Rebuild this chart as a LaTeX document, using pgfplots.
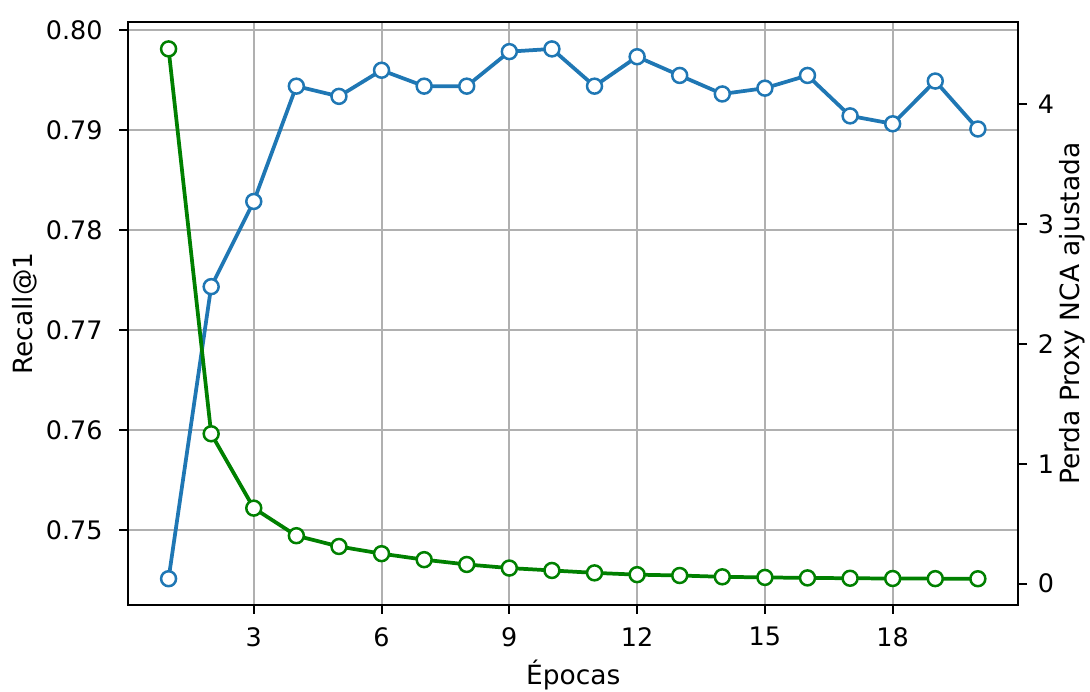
\documentclass[border={4.8pt 0.8pt 2pt 4.8pt}]{standalone}
\usepackage{pgfplots}
\pgfplotsset{compat=1.18}
\usepackage{fontspec}
\setmainfont{DejaVu Sans}
\definecolor{mplblue}{HTML}{1F77B4}
\definecolor{mplgreen}{HTML}{008000}
\definecolor{gridgray}{HTML}{B0B0B0}
\begin{document}
\begin{tikzpicture}
\pgfplotsset{
  common/.style={
    scale only axis, width=356.8pt, height=233.6pt,
    xmin=0.05, xmax=20.95,
    axis line style={line width=0.8pt, black},
    tick style={line width=0.8pt, black},
    major tick length=3.5pt,
    tick align=outside,
    /pgf/number format/assume math mode=true,
    tick label style={font=\fontsize{10.2}{12}\selectfont},
  }
}
\begin{axis}[
  common,
  ymin=0.74252, ymax=0.80075,
  xtick={3,6,9,12,15,18},
  ytick={0.75,0.76,0.77,0.78,0.79,0.80},
  yticklabel style={xshift=-3.2pt, /pgf/number format/.cd, fixed, fixed zerofill, precision=2},
  xticklabel style={yshift=-1.8pt},
  xtick pos=bottom, ytick pos=left,
  grid=major,
  grid style={line width=0.8pt, gridgray},
  xlabel={Épocas},
  ylabel={Recall@1},
  every axis x label/.style={at={(rel axis cs:0.5,0)}, yshift=-27.8pt, anchor=center, inner sep=0pt, font=\fontsize{10.6}{12}\selectfont},
  every axis y label/.style={at={(rel axis cs:0,0.5)}, xshift=-41.6pt, rotate=90, anchor=center, inner sep=0pt, font=\fontsize{10.6}{12}\selectfont},
]
\addplot[mplblue, line width=1.5pt, mark=*, mark size=3pt,
  mark options={fill=white, draw=mplblue, line width=1pt}] coordinates {
(1,0.74517) (2,0.77435) (3,0.78286) (4,0.79438) (5,0.79336)
(6,0.79597) (7,0.79438) (8,0.79438) (9,0.79783) (10,0.79810)
(11,0.79438) (12,0.79732) (13,0.79545) (14,0.79360) (15,0.79418)
(16,0.79545) (17,0.79141) (18,0.79062) (19,0.79489) (20,0.79010)
};
\end{axis}
\begin{axis}[
  common,
  ymin=-0.18, ymax=4.681,
  xtick=\empty,
  ytick={0,1,2,3,4},
  ytick pos=right,
  yticklabel pos=right,
  yticklabel style={xshift=0.8pt},
  ylabel={Perda Proxy NCA ajustada},
  every axis y label/.style={at={(rel axis cs:1,0.5)}, xshift=21.6pt, rotate=90, anchor=center, inner sep=0pt, font=\fontsize{10.6}{12}\selectfont},
]
\addplot[mplgreen, line width=1.5pt, mark=*, mark size=3pt,
  mark options={fill=white, draw=mplgreen, line width=1pt}] coordinates {
(1,4.46) (2,1.25) (3,0.63) (4,0.40) (5,0.31)
(6,0.25) (7,0.20) (8,0.16) (9,0.13) (10,0.11)
(11,0.09) (12,0.075) (13,0.068) (14,0.057) (15,0.052)
(16,0.048) (17,0.045) (18,0.043) (19,0.042) (20,0.041)
};
\end{axis}
\end{tikzpicture}
\end{document}
